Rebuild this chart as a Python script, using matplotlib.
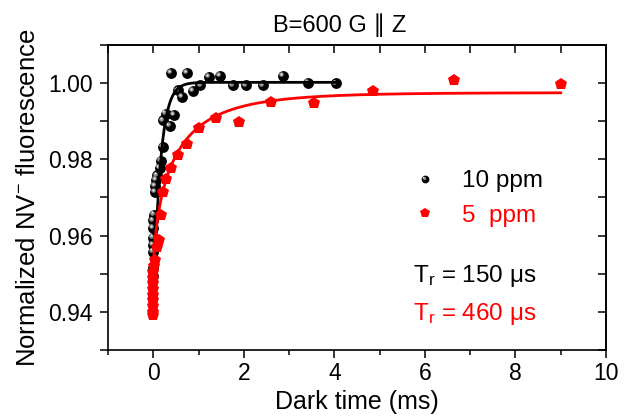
import numpy as np
import matplotlib
matplotlib.use("Agg")
import matplotlib.pyplot as plt
from matplotlib.transforms import offset_copy
from matplotlib.ticker import MultipleLocator

# 10 ppm sample (black spheres)
t_10 = [0, 0, 0, 0, 0, 0, 0, 0.02, 0.04, 0.04, 0.06, 0.08, 0.14, 0.17, 0.21, 0.21,
        0.27, 0.36, 0.45, 0.39, 0.54, 0.64, 0.75, 0.88, 1.04, 1.23, 1.47, 1.75,
        2.04, 2.43, 2.87, 3.41, 4.04]
f_10 = [0.9495, 0.9515, 0.9558, 0.9575, 0.9595, 0.9620, 0.9640, 0.9655, 0.9715,
        0.9730, 0.9745, 0.9758, 0.9777, 0.9797, 0.9832, 0.9902, 0.9920, 0.9887,
        0.9916, 1.0027, 0.9981, 0.9963, 1.0027, 0.9979, 0.9994, 1.0016, 1.0019,
        0.9994, 0.9994, 0.9994, 1.0019, 1.0001, 0.9999]

# 5 ppm sample (red pentagons)
t_5 = [0, 0, 0, 0, 0, 0, 0, 0, 0, 0.02, 0.04, 0.08, 0.12, 0.16, 0.21, 0.29, 0.40,
       0.55, 0.75, 1.01, 1.39, 1.90, 2.60, 3.54, 4.86, 6.64, 9.0]
f_5 = [0.9392, 0.9400, 0.9415, 0.9430, 0.9445, 0.9460, 0.9475, 0.9490, 0.9505,
       0.9520, 0.9536, 0.9571, 0.9589, 0.9653, 0.9714, 0.9749, 0.9777, 0.9812,
       0.9841, 0.9882, 0.9909, 0.9897, 0.9950, 0.9947, 0.9979, 1.0008, 0.9998]

# fit parameters: y0 - A*exp(-(t/T_r)^beta)
fit_10 = dict(y0=1.0002, A=0.061, tr=0.15, beta=1.0)
fit_5 = dict(y0=0.9975, A=0.0474, tr=0.46, beta=0.65)


def recovery(t, y0, A, tr, beta):
    return y0 - A * np.exp(-(t / tr) ** beta)


plt.rcParams['font.family'] = ['Liberation Sans', 'DejaVu Sans']
plt.rcParams['mathtext.fontset'] = 'custom'
plt.rcParams['mathtext.rm'] = 'Liberation Sans'
plt.rcParams['mathtext.it'] = 'Liberation Sans:italic'

fig = plt.figure(figsize=(6.31, 4.20), dpi=100)
ax = fig.add_axes([0.1712, 0.1667, 0.7892, 0.7262])


def spheres(x, y, ms, trans=None, **kw):
    trans = ax.transData if trans is None else trans
    ax.plot(x, y, 'o', color='black', ms=ms, mew=0, transform=trans, **kw)
    hl = offset_copy(trans, fig=fig, x=-ms * 0.17, y=ms * 0.17, units='points')
    ax.plot(x, y, 'o', color='#8e8e8e', ms=ms * 0.42, mew=0, transform=hl, **kw)
    hl2 = offset_copy(trans, fig=fig, x=-ms * 0.2, y=ms * 0.2, units='points')
    ax.plot(x, y, 'o', color='#e8e8e8', ms=ms * 0.18, mew=0, transform=hl2, **kw)


spheres(t_10, f_10, 7.8)
tt = np.linspace(0, max(t_10), 400)
ax.plot(tt, recovery(tt, **fit_10), color='black', lw=2)

ax.plot(t_5, f_5, 'p', color='red', ms=9.2, mew=0)
tt = np.linspace(0, max(t_5), 600)
ax.plot(tt, recovery(tt, **fit_5), color='red', lw=2)

ax.set_xlim(-1, 10)
ax.set_ylim(0.93, 1.01)
ax.xaxis.set_major_locator(MultipleLocator(2))
ax.xaxis.set_minor_locator(MultipleLocator(1))
ax.yaxis.set_major_locator(MultipleLocator(0.02))
ax.yaxis.set_minor_locator(MultipleLocator(0.01))
ax.yaxis.set_major_formatter('{x:.2f}')
ax.tick_params(which='both', direction='out', width=1.1, labelsize=16.5,
               top=False, right=False)
ax.tick_params(axis='x', which='major', length=6, pad=3)
ax.tick_params(axis='x', which='minor', length=3.5)
ax.tick_params(axis='y', which='both', length=6, pad=5)
for s in ax.spines.values():
    s.set_linewidth(1.2)

top = ax.secondary_xaxis('top')
top.xaxis.set_major_locator(MultipleLocator(1))
top.tick_params(direction='in', length=6, width=1.1, labeltop=False)
top.spines['top'].set_linewidth(1.2)
right = ax.secondary_yaxis('right')
right.yaxis.set_major_locator(MultipleLocator(0.01))
right.tick_params(direction='in', length=6, width=1.1, labelright=False)
right.spines['right'].set_linewidth(1.2)

ax.set_xlabel('Dark time (ms)', fontsize=18, labelpad=3)
ax.set_ylabel(r'Normalized NV$^{\mathregular{-}}$ fluorescence', fontsize=18.5, labelpad=6)
ax.set_title('B=600 G \u2225 Z', fontsize=17, pad=9, x=0.466)

# legend and annotations
spheres([0.6365], [0.5607], 5.6, trans=ax.transAxes, clip_on=False)
ax.plot([0.6365], [0.449], 'p', color='red', ms=7, mew=0, transform=ax.transAxes)
ax.text(0.7108, 0.533, '10 ppm', fontsize=17.5, color='black', transform=ax.transAxes)
ax.text(0.7108, 0.4207, '5  ppm', fontsize=17.5, color='red', transform=ax.transAxes)
ax.text(0.6124, 0.224, r'T$_\mathregular{r}$ = 150 $\mathregular{\mu}$s', fontsize=17.5,
        color='black', transform=ax.transAxes)
ax.text(0.6124, 0.0984, r'T$_\mathregular{r}$ = 460 $\mathregular{\mu}$s', fontsize=17.5,
        color='red', transform=ax.transAxes)

fig.savefig('out.png', dpi=100)
